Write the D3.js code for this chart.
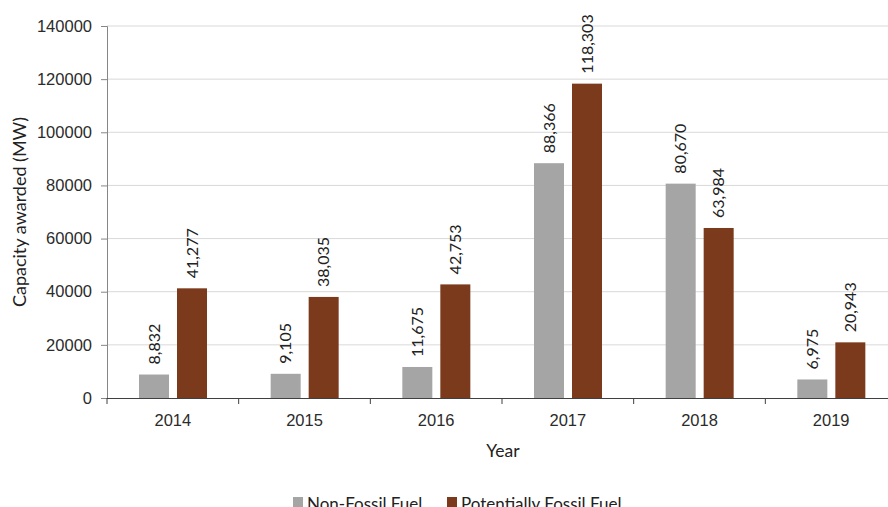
<!DOCTYPE html>
<html>
<head>
<meta charset="utf-8">
<script src="https://cdn.jsdelivr.net/npm/d3@7/dist/d3.min.js"></script>
<style>
  html, body { margin: 0; padding: 0; background: #fff; }
  svg { display: block; font-family: Lato, "Open Sans", sans-serif; }
</style>
</head>
<body>
<svg id="chart" width="888" height="507"></svg>
<script>
// Capacity awarded per year, split by fuel type (MW)
const years = ["2014", "2015", "2016", "2017", "2018", "2019"];
const seriesNames = ["Non-Fossil Fuel", "Potentially Fossil Fuel"];
const nonFossil = [8832, 9105, 11675, 88366, 80670, 6975];
const potentiallyFossil = [41277, 38035, 42753, 118303, 63984, 20943];
const yTicks = [0, 20000, 40000, 60000, 80000, 100000, 120000, 140000];
const colors = ["#a5a5a5", "#7a3a1b"];

const svg = d3.select("#chart");
const plotLeft = 107, plotRight = 897, plotTop = 26, plotBottom = 398;

const x = d3.scaleBand().domain(years).range([plotLeft, plotRight]);
const x1 = d3.scaleBand().domain(seriesNames).range([32, 100]).paddingInner(8 / 38);
const y = d3.scaleLinear().domain([0, 140000]).range([plotBottom, plotTop]);
const color = d3.scaleOrdinal().domain(seriesNames).range(colors);

const rows = years.map((yr, i) => ({
  year: yr,
  values: [
    { key: seriesNames[0], value: nonFossil[i] },
    { key: seriesNames[1], value: potentiallyFossil[i] }
  ]
}));

// Horizontal gridlines
svg.append("g")
  .selectAll("line")
  .data(yTicks.filter(t => t > 0))
  .join("line")
  .attr("x1", plotLeft).attr("x2", 888)
  .attr("y1", d => y(d)).attr("y2", d => y(d))
  .attr("stroke", "#d9d9d9").attr("stroke-width", 1);

// Y axis
const yAxis = svg.append("g")
  .attr("transform", `translate(${plotLeft},0)`)
  .call(d3.axisLeft(y).tickValues(yTicks).tickFormat(d3.format("d")).tickSize(6).tickPadding(9));
yAxis.select(".domain").attr("stroke", "#868686");
yAxis.selectAll(".tick line").attr("stroke", "#868686");
yAxis.selectAll(".tick text").attr("font-size", 16.5).attr("fill", "#2b2b2b");

// Bars
const groups = svg.append("g")
  .selectAll("g")
  .data(rows)
  .join("g")
  .attr("transform", d => `translate(${x(d.year)},0)`);

groups.selectAll("rect")
  .data(d => d.values)
  .join("rect")
  .attr("x", d => x1(d.key))
  .attr("width", x1.bandwidth())
  .attr("y", d => y(d.value))
  .attr("height", d => plotBottom - y(d.value))
  .attr("fill", d => color(d.key));

// Value labels, rotated above each bar
groups.selectAll("text")
  .data(d => d.values)
  .join("text")
  .attr("transform", d => `translate(${x1(d.key) + x1.bandwidth() / 2},${y(d.value) - 10}) rotate(-90)`)
  .attr("dy", "0.35em")
  .attr("text-anchor", "start")
  .attr("font-size", 16)
  .attr("fill", "#222")
  .text(d => d3.format(",")(d.value));

// X axis
const xAxis = svg.append("g")
  .attr("transform", `translate(0,${plotBottom})`)
  .call(d3.axisBottom(x).tickSize(0).tickPadding(16));
xAxis.select(".domain").attr("stroke", "#404040").attr("d", `M${plotLeft},0.5H888`);
xAxis.selectAll(".tick text").attr("font-size", 16.5).attr("fill", "#2b2b2b");
svg.append("g")
  .selectAll("line")
  .data(years.map(yr => x(yr)))
  .join("line")
  .attr("x1", d => d).attr("x2", d => d)
  .attr("y1", plotBottom).attr("y2", plotBottom + 6)
  .attr("stroke", "#404040");

// Axis titles
svg.append("text")
  .attr("x", 503).attr("y", 457)
  .attr("text-anchor", "middle")
  .attr("font-size", 17.5).attr("fill", "#222")
  .text("Year");
svg.append("text")
  .attr("transform", "translate(26,212) rotate(-90)")
  .attr("text-anchor", "middle")
  .attr("font-size", 18).attr("fill", "#222")
  .text("Capacity awarded (MW)");

// Legend, sitting at the lower edge
const legend = svg.append("g");
const legendX = [293, 447];
seriesNames.forEach((name, i) => {
  legend.append("rect")
    .attr("x", legendX[i]).attr("y", 497)
    .attr("width", 10).attr("height", 10)
    .attr("fill", colors[i]);
  legend.append("text")
    .attr("x", legendX[i] + 14).attr("y", 510)
    .attr("font-size", 17).attr("fill", "#222")
    .text(name);
});
</script>
</body>
</html>
